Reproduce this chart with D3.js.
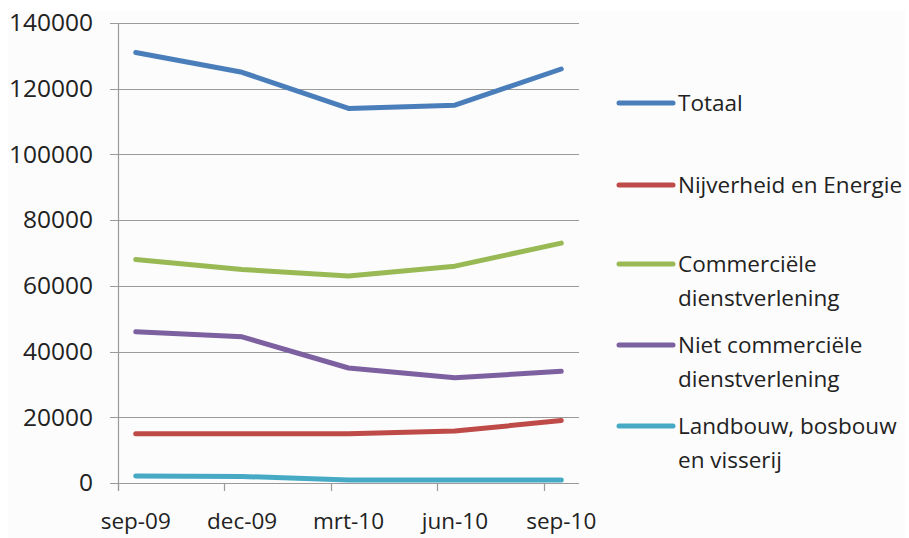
<!DOCTYPE html>
<html>
<head>
<meta charset="utf-8">
<script src="https://cdn.jsdelivr.net/npm/d3@7"></script>
<style>
  body { margin: 0; background: #fff; }
  .canvas { width: 909px; height: 538px; }
  text { font-family: "Open Sans", "Noto Sans", sans-serif; fill: #222; }
</style>
</head>
<body>
<div class="canvas"></div>
<script>
// data
const periods = ['sep-09', 'dec-09', 'mrt-10', 'jun-10', 'sep-10'];
const periodMonth = [0, 3, 6, 9, 12]; // months since sep-09
const seriesNames = ['Totaal', 'Nijverheid en Energie', 'Commerciële dienstverlening',
	'Niet commerciële dienstverlening', 'Landbouw, bosbouw en visserij'];
const legendLines = [['Totaal'], ['Nijverheid en Energie'], ['Commerciële', 'dienstverlening'],
	['Niet commerciële', 'dienstverlening'], ['Landbouw, bosbouw', 'en visserij']];
const totaal = [131000, 125000, 114000, 115000, 126000];
const nijverheid = [15000, 15000, 15000, 15800, 19000];
const commercieel = [68000, 65000, 63000, 66000, 73000];
const nietCommercieel = [46000, 44500, 35000, 32000, 34000];
const landbouw = [2100, 2000, 900, 900, 900];
const yTicks = [0, 20000, 40000, 60000, 80000, 100000, 120000, 140000];
const colors = ['#4a7ebb', '#be4b48', '#98b954', '#7d60a0', '#46aac5'];

const allSeries = [totaal, nijverheid, commercieel, nietCommercieel, landbouw];

const W = 909, H = 538;
const m = {t: 23, l: 118, r: 330, b: 55};

var svg = d3.select('.canvas').append('svg')
	.attr('width', W)
	.attr('height', H);

// faint chart area background
svg.append('rect')
	.attr('x', 8).attr('y', 11)
	.attr('width', W - 12).attr('height', H - 11)
	.attr('fill', '#fcfcfc');

// date-like axis: 13 monthly buckets, points in the middle of their month
var x = d3.scaleLinear().domain([0, 13]).range([m.l, W - m.r]);
var y = d3.scaleLinear().domain([0, 140000]).range([H - m.b, m.t]);

// gridlines
svg.append('g')
	.selectAll('line')
	.data(yTicks)
	.enter()
	.append('line')
	.attr('x1', m.l - 8)
	.attr('x2', x(13))
	.attr('y1', d => Math.round(y(d)) + 0.5)
	.attr('y2', d => Math.round(y(d)) + 0.5)
	.attr('stroke', '#9a9a9a')
	.attr('stroke-width', 1.2);

// y axis
var yAxis = svg.append('g')
	.attr('transform', `translate(${m.l},0)`)
	.call(d3.axisLeft(y).tickValues(yTicks).tickFormat(d3.format('d')).tickSize(0).tickPadding(25));
yAxis.select('.domain').remove();
yAxis.selectAll('text').style('font-size', '24.5px').attr('fill', '#222');
svg.append('line')
	.attr('x1', m.l + 0.5).attr('x2', m.l + 0.5)
	.attr('y1', y(140000)).attr('y2', y(0) + 8)
	.attr('stroke', '#9a9a9a').attr('stroke-width', 1.2);

// x axis ticks at month boundaries, labels in the middle of the month
svg.append('g')
	.selectAll('line')
	.data(periodMonth)
	.enter()
	.append('line')
	.attr('x1', d => Math.round(x(d)) + 0.5)
	.attr('x2', d => Math.round(x(d)) + 0.5)
	.attr('y1', y(0))
	.attr('y2', y(0) + 8)
	.attr('stroke', '#9a9a9a').attr('stroke-width', 1.2);

svg.append('g')
	.selectAll('text')
	.data(periods)
	.enter()
	.append('text')
	.attr('x', (d, i) => x(periodMonth[i] + 0.5))
	.attr('y', y(0) + 46)
	.attr('text-anchor', 'middle')
	.style('font-size', '22.5px')
	.text(d => d);

// lines
var line = d3.line()
	.x((d, i) => x(periodMonth[i] + 0.5))
	.y(d => y(d));

svg.append('g')
	.selectAll('path')
	.data(allSeries)
	.enter()
	.append('path')
	.attr('d', d => line(d))
	.attr('fill', 'none')
	.attr('stroke', (d, i) => colors[i])
	.attr('stroke-width', 5)
	.attr('stroke-linecap', 'round')
	.attr('stroke-linejoin', 'round');

// legend
var legendY = [103, 185, 264, 345, 426];
var legend = svg.append('g')
	.selectAll('g')
	.data(seriesNames)
	.enter()
	.append('g')
	.attr('transform', (d, i) => `translate(619,${legendY[i]})`);

legend.append('line')
	.attr('x1', 0).attr('x2', 54)
	.attr('stroke', (d, i) => colors[i])
	.attr('stroke-width', 5)
	.attr('stroke-linecap', 'round');

legend.each(function(d, i) {
	var g = d3.select(this);
	legendLines[i].forEach(function(t, j) {
		g.append('text')
			.attr('x', 59)
			.attr('y', 8 + j * 34)
			.style('font-size', '22.5px')
			.text(t);
	});
});
</script>
</body>
</html>
